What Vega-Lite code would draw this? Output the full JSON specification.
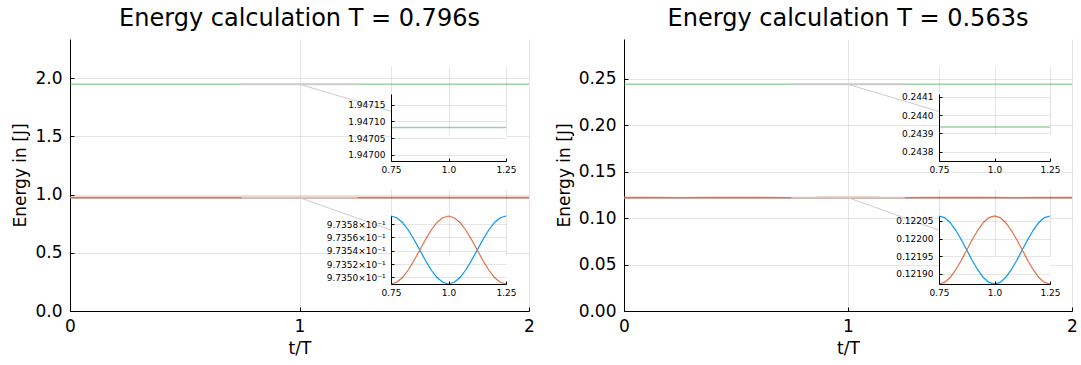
{
"$schema": "https://vega.github.io/schema/vega-lite/v6.json",
"padding": {"left": 11, "top": 7, "right": 0, "bottom": 0},
"background": "white",
"config": {
  "font": "DejaVu Sans",
  "view": {"stroke": null},
  "axis": {"domainColor": "#000", "tickColor": "#000", "labelColor": "#000", "titleColor": "#000", "gridColor": "#000", "gridOpacity": 0.1, "gridWidth": 1, "titleFontWeight": "normal", "labelFont": "DejaVu Sans", "titleFont": "DejaVu Sans", "labelOverlap": false, "labelBound": false},
  "title": {"font": "DejaVu Sans", "fontWeight": "normal", "fontSize": 24, "color": "#000"}
},
"datasets": {
  "p1": [
    {"t":0,"K":0.97349,"P":0.973592,"E":1.947082},
    {"t":0.125,"K":0.973541,"P":0.973541,"E":1.947082},
    {"t":0.25,"K":0.973592,"P":0.97349,"E":1.947082},
    {"t":0.375,"K":0.973541,"P":0.973541,"E":1.947082},
    {"t":0.5,"K":0.97349,"P":0.973592,"E":1.947082},
    {"t":0.625,"K":0.973541,"P":0.973541,"E":1.947082},
    {"t":0.75,"K":0.973592,"P":0.97349,"E":1.947082},
    {"t":0.775,"K":0.9735895,"P":0.9734925,"E":1.947082},
    {"t":0.8,"K":0.9735823,"P":0.9734997,"E":1.947082},
    {"t":0.825,"K":0.973571,"P":0.973511,"E":1.947082},
    {"t":0.85,"K":0.9735568,"P":0.9735252,"E":1.947082},
    {"t":0.875,"K":0.973541,"P":0.973541,"E":1.947082},
    {"t":0.9,"K":0.9735252,"P":0.9735568,"E":1.947082},
    {"t":0.925,"K":0.973511,"P":0.973571,"E":1.947082},
    {"t":0.95,"K":0.9734997,"P":0.9735823,"E":1.947082},
    {"t":0.975,"K":0.9734925,"P":0.9735895,"E":1.947082},
    {"t":1,"K":0.97349,"P":0.973592,"E":1.947082},
    {"t":1.025,"K":0.9734925,"P":0.9735895,"E":1.947082},
    {"t":1.05,"K":0.9734997,"P":0.9735823,"E":1.947082},
    {"t":1.075,"K":0.973511,"P":0.973571,"E":1.947082},
    {"t":1.1,"K":0.9735252,"P":0.9735568,"E":1.947082},
    {"t":1.125,"K":0.973541,"P":0.973541,"E":1.947082},
    {"t":1.15,"K":0.9735568,"P":0.9735252,"E":1.947082},
    {"t":1.175,"K":0.973571,"P":0.973511,"E":1.947082},
    {"t":1.2,"K":0.9735823,"P":0.9734997,"E":1.947082},
    {"t":1.225,"K":0.9735895,"P":0.9734925,"E":1.947082},
    {"t":1.25,"K":0.973592,"P":0.97349,"E":1.947082},
    {"t":1.375,"K":0.973541,"P":0.973541,"E":1.947082},
    {"t":1.5,"K":0.97349,"P":0.973592,"E":1.947082},
    {"t":1.625,"K":0.973541,"P":0.973541,"E":1.947082},
    {"t":1.75,"K":0.973592,"P":0.97349,"E":1.947082},
    {"t":1.875,"K":0.973541,"P":0.973541,"E":1.947082},
    {"t":2,"K":0.97349,"P":0.973592,"E":1.947082}
  ],
  "p2": [
    {"t":0,"K":0.121871,"P":0.122064,"E":0.243935},
    {"t":0.125,"K":0.1219675,"P":0.1219675,"E":0.243935},
    {"t":0.25,"K":0.122064,"P":0.121871,"E":0.243935},
    {"t":0.375,"K":0.1219675,"P":0.1219675,"E":0.243935},
    {"t":0.5,"K":0.121871,"P":0.122064,"E":0.243935},
    {"t":0.625,"K":0.1219675,"P":0.1219675,"E":0.243935},
    {"t":0.75,"K":0.122064,"P":0.121871,"E":0.243935},
    {"t":0.775,"K":0.1220593,"P":0.1218757,"E":0.243935},
    {"t":0.8,"K":0.1220456,"P":0.1218894,"E":0.243935},
    {"t":0.825,"K":0.1220242,"P":0.1219108,"E":0.243935},
    {"t":0.85,"K":0.1219973,"P":0.1219377,"E":0.243935},
    {"t":0.875,"K":0.1219675,"P":0.1219675,"E":0.243935},
    {"t":0.9,"K":0.1219377,"P":0.1219973,"E":0.243935},
    {"t":0.925,"K":0.1219108,"P":0.1220242,"E":0.243935},
    {"t":0.95,"K":0.1218894,"P":0.1220456,"E":0.243935},
    {"t":0.975,"K":0.1218757,"P":0.1220593,"E":0.243935},
    {"t":1,"K":0.121871,"P":0.122064,"E":0.243935},
    {"t":1.025,"K":0.1218757,"P":0.1220593,"E":0.243935},
    {"t":1.05,"K":0.1218894,"P":0.1220456,"E":0.243935},
    {"t":1.075,"K":0.1219108,"P":0.1220242,"E":0.243935},
    {"t":1.1,"K":0.1219377,"P":0.1219973,"E":0.243935},
    {"t":1.125,"K":0.1219675,"P":0.1219675,"E":0.243935},
    {"t":1.15,"K":0.1219973,"P":0.1219377,"E":0.243935},
    {"t":1.175,"K":0.1220242,"P":0.1219108,"E":0.243935},
    {"t":1.2,"K":0.1220456,"P":0.1218894,"E":0.243935},
    {"t":1.225,"K":0.1220593,"P":0.1218757,"E":0.243935},
    {"t":1.25,"K":0.122064,"P":0.121871,"E":0.243935},
    {"t":1.375,"K":0.1219675,"P":0.1219675,"E":0.243935},
    {"t":1.5,"K":0.121871,"P":0.122064,"E":0.243935},
    {"t":1.625,"K":0.1219675,"P":0.1219675,"E":0.243935},
    {"t":1.75,"K":0.122064,"P":0.121871,"E":0.243935},
    {"t":1.875,"K":0.1219675,"P":0.1219675,"E":0.243935},
    {"t":2,"K":0.121871,"P":0.122064,"E":0.243935}
  ]
},
"hconcat": [
  {
    "width": 459, "height": 272,
    "title": {"text": "Energy calculation T = 0.796s", "anchor": "middle", "frame": "group", "offset": -11, "baseline": "alphabetic"},
    "layer": [
      {
        "layer": [
          {"data": {"name": "p1"}, "mark": {"type": "line", "color": "#009AFA", "strokeWidth": 1.2},
           "encoding": {
             "x": {"field": "t", "type": "quantitative", "title": "t/T", "scale": {"domain": [0, 2], "nice": false, "zero": false},
                   "axis": {"orient": "bottom", "tickCount": 2, "format": "d", "grid": true, "labelFontSize": 17, "titleFontSize": 17, "tickSize": -4, "labelPadding": 11, "titlePadding": 6, "labelFlush": false, "labelOverlap": false, "labelBound": false}},
             "y": {"field": "K", "type": "quantitative", "title": "Energy in [J]", "scale": {"domain": [0, 2.3365], "nice": false, "zero": false},
                   "axis": {"orient": "left", "values": [0, 0.5, 1, 1.5, 2], "format": ".1f", "grid": true, "labelFontSize": 17, "titleFontSize": 17, "tickSize": -4, "labelPadding": 12, "titlePadding": 5, "labelOverlap": false, "labelBound": false}}
           }},
          {"data": {"name": "p1"}, "mark": {"type": "line", "color": "#E36F47", "strokeWidth": 1.6},
           "encoding": {
             "x": {"field": "t", "type": "quantitative", "title": "t/T", "scale": {"domain": [0, 2], "nice": false, "zero": false}},
             "y": {"field": "P", "type": "quantitative", "title": "Energy in [J]", "scale": {"domain": [0, 2.3365], "nice": false, "zero": false}}
           }},
          {"data": {"name": "p1"}, "mark": {"type": "line", "color": "#3EA44E", "opacity": 0.5, "strokeWidth": 1.5},
           "encoding": {
             "x": {"field": "t", "type": "quantitative", "title": "t/T", "scale": {"domain": [0, 2], "nice": false, "zero": false}},
             "y": {"field": "E", "type": "quantitative", "title": "Energy in [J]", "scale": {"domain": [0, 2.3365], "nice": false, "zero": false}}
           }},
          {"data": {"values": [{"x1": 0.75, "x2": 1.25, "y1": 1.946982, "y2": 1.947182}, {"x1": 0.75, "x2": 1.25, "y1": 0.97349, "y2": 0.973592}]},
           "mark": {"type": "rect", "fill": "white", "fillOpacity": 0, "stroke": "#cccccc", "strokeWidth": 1.6},
           "encoding": {
             "x": {"field": "x1", "type": "quantitative", "title": "t/T", "scale": {"domain": [0, 2], "nice": false, "zero": false}},
             "x2": {"field": "x2"},
             "y": {"field": "y1", "type": "quantitative", "title": "Energy in [J]", "scale": {"domain": [0, 2.3365], "nice": false, "zero": false}},
             "y2": {"field": "y2"}
           }},
          {"data": {"values": [{"x1": 1.0, "x2": 1.3987, "y1": 1.947082, "y2": 1.7163}, {"x1": 1.0, "x2": 1.3987, "y1": 0.973541, "y2": 0.6958}]},
           "mark": {"type": "rule", "color": "#cccccc", "strokeWidth": 1},
           "encoding": {
             "x": {"field": "x1", "type": "quantitative", "title": "t/T", "scale": {"domain": [0, 2], "nice": false, "zero": false}},
             "x2": {"field": "x2"},
             "y": {"field": "y1", "type": "quantitative", "title": "Energy in [J]", "scale": {"domain": [0, 2.3365], "nice": false, "zero": false}},
             "y2": {"field": "y2"}
           }}
        ]
      },
      {
        "layer": [
          {"data": {"values": [{"x1": 0.75, "x2": 1.25, "y1": 1.946982, "y2": 1.947182}]},
           "mark": {"type": "rect", "fill": "white"},
           "encoding": {
             "x": {"field": "x1", "type": "quantitative", "title": null, "scale": {"domain": [0.75, 1.25], "range": [321, 436], "nice": false, "zero": false},
                   "axis": {"orient": "bottom", "offset": -150, "values": [0.75, 1, 1.25], "labelExpr": "datum.value == 1 ? '1.0' : format(datum.value, '.2f')", "labelFontSize": 9, "tickSize": -3, "labelPadding": 7, "grid": true, "labelFlush": false, "labelOverlap": false, "zindex": 1, "title": null}},
             "x2": {"field": "x2"},
             "y": {"field": "y1", "type": "quantitative", "title": null, "scale": {"domain": [1.946982, 1.947182], "range": [122, 55], "nice": false, "zero": false},
                   "axis": {"orient": "left", "offset": -321, "values": [1.947, 1.94705, 1.9471, 1.94715], "format": ".5f", "labelFontSize": 9, "tickSize": -3, "labelPadding": 9, "grid": true, "labelOverlap": false, "zindex": 1, "title": null}},
             "y2": {"field": "y2"}
           }},
          {"data": {"name": "p1"}, "transform": [{"filter": "datum.t >= 0.75 && datum.t <= 1.25"}],
           "mark": {"type": "line", "color": "#3EA44E", "opacity": 0.5, "strokeWidth": 1.5},
           "encoding": {
             "x": {"field": "t", "type": "quantitative", "title": null, "scale": {"domain": [0.75, 1.25], "range": [321, 436], "nice": false, "zero": false}},
             "y": {"field": "E", "type": "quantitative", "title": null, "scale": {"domain": [1.946982, 1.947182], "range": [122, 55], "nice": false, "zero": false}}
           }}
        ]
      },
      {
        "layer": [
          {"data": {"values": [{"x1": 0.75, "x2": 1.25, "y1": 0.97349, "y2": 0.973592}]},
           "mark": {"type": "rect", "fill": "white"},
           "encoding": {
             "x": {"field": "x1", "type": "quantitative", "title": null, "scale": {"domain": [0.75, 1.25], "range": [321, 436], "nice": false, "zero": false},
                   "axis": {"orient": "bottom", "offset": -27, "values": [0.75, 1, 1.25], "labelExpr": "datum.value == 1 ? '1.0' : format(datum.value, '.2f')", "labelFontSize": 9, "tickSize": -3, "labelPadding": 7, "grid": true, "labelFlush": false, "labelOverlap": false, "zindex": 1, "title": null}},
             "x2": {"field": "x2"},
             "y": {"field": "y1", "type": "quantitative", "title": null, "scale": {"domain": [0.97349, 0.973592], "range": [245, 177], "nice": false, "zero": false},
                   "axis": {"orient": "left", "offset": -321, "values": [0.9735, 0.97352, 0.97354, 0.97356, 0.97358], "labelExpr": "format(datum.value * 10, '.4f') + '×10⁻¹'", "labelFontSize": 9, "tickSize": -3, "labelPadding": 9, "grid": true, "labelOverlap": false, "zindex": 1, "title": null}},
             "y2": {"field": "y2"}
           }},
          {"data": {"name": "p1"}, "transform": [{"filter": "datum.t >= 0.75 && datum.t <= 1.25"}],
           "mark": {"type": "line", "color": "#009AFA", "strokeWidth": 1.2},
           "encoding": {
             "x": {"field": "t", "type": "quantitative", "title": null, "scale": {"domain": [0.75, 1.25], "range": [321, 436], "nice": false, "zero": false}},
             "y": {"field": "K", "type": "quantitative", "title": null, "scale": {"domain": [0.97349, 0.973592], "range": [245, 177], "nice": false, "zero": false}}
           }},
          {"data": {"name": "p1"}, "transform": [{"filter": "datum.t >= 0.75 && datum.t <= 1.25"}],
           "mark": {"type": "line", "color": "#E36F47", "strokeWidth": 1.2},
           "encoding": {
             "x": {"field": "t", "type": "quantitative", "title": null, "scale": {"domain": [0.75, 1.25], "range": [321, 436], "nice": false, "zero": false}},
             "y": {"field": "P", "type": "quantitative", "title": null, "scale": {"domain": [0.97349, 0.973592], "range": [245, 177], "nice": false, "zero": false}}
           }}
        ]
      }
    ],
    "resolve": {"scale": {"x": "independent", "y": "independent"}, "axis": {"x": "independent", "y": "independent"}}
  },
  {
    "width": 448, "height": 272,
    "title": {"text": "Energy calculation T = 0.563s", "anchor": "middle", "frame": "group", "offset": -11, "baseline": "alphabetic"},
    "layer": [
      {
        "layer": [
          {"data": {"name": "p2"}, "mark": {"type": "line", "color": "#009AFA", "strokeWidth": 1.2},
           "encoding": {
             "x": {"field": "t", "type": "quantitative", "title": "t/T", "scale": {"domain": [0, 2], "nice": false, "zero": false},
                   "axis": {"orient": "bottom", "tickCount": 2, "format": "d", "grid": true, "labelFontSize": 17, "titleFontSize": 17, "tickSize": -4, "labelPadding": 11, "titlePadding": 6, "labelFlush": false, "labelOverlap": false, "labelBound": false}},
             "y": {"field": "K", "type": "quantitative", "title": "Energy in [J]", "scale": {"domain": [0, 0.29273], "nice": false, "zero": false},
                   "axis": {"orient": "left", "values": [0, 0.05, 0.1, 0.15, 0.2, 0.25], "format": ".2f", "grid": true, "labelFontSize": 17, "titleFontSize": 17, "tickSize": -4, "labelPadding": 12, "titlePadding": 5, "labelOverlap": false, "labelBound": false}}
           }},
          {"data": {"name": "p2"}, "mark": {"type": "line", "color": "#E36F47", "strokeWidth": 1.6},
           "encoding": {
             "x": {"field": "t", "type": "quantitative", "title": "t/T", "scale": {"domain": [0, 2], "nice": false, "zero": false}},
             "y": {"field": "P", "type": "quantitative", "title": "Energy in [J]", "scale": {"domain": [0, 0.29273], "nice": false, "zero": false}}
           }},
          {"data": {"name": "p2"}, "mark": {"type": "line", "color": "#3EA44E", "opacity": 0.5, "strokeWidth": 1.5},
           "encoding": {
             "x": {"field": "t", "type": "quantitative", "title": "t/T", "scale": {"domain": [0, 2], "nice": false, "zero": false}},
             "y": {"field": "E", "type": "quantitative", "title": "Energy in [J]", "scale": {"domain": [0, 0.29273], "nice": false, "zero": false}}
           }},
          {"data": {"values": [{"x1": 0.75, "x2": 1.25, "y1": 0.24375, "y2": 0.244115}, {"x1": 0.75, "x2": 1.25, "y1": 0.121871, "y2": 0.122064}]},
           "mark": {"type": "rect", "fill": "white", "fillOpacity": 0, "stroke": "#cccccc", "strokeWidth": 1.6},
           "encoding": {
             "x": {"field": "x1", "type": "quantitative", "title": "t/T", "scale": {"domain": [0, 2], "nice": false, "zero": false}},
             "x2": {"field": "x2"},
             "y": {"field": "y1", "type": "quantitative", "title": "Energy in [J]", "scale": {"domain": [0, 0.29273], "nice": false, "zero": false}},
             "y2": {"field": "y2"}
           }},
          {"data": {"values": [{"x1": 1.0, "x2": 1.40625, "y1": 0.243935, "y2": 0.21481}, {"x1": 1.0, "x2": 1.40625, "y1": 0.1219675, "y2": 0.08696}]},
           "mark": {"type": "rule", "color": "#cccccc", "strokeWidth": 1},
           "encoding": {
             "x": {"field": "x1", "type": "quantitative", "title": "t/T", "scale": {"domain": [0, 2], "nice": false, "zero": false}},
             "x2": {"field": "x2"},
             "y": {"field": "y1", "type": "quantitative", "title": "Energy in [J]", "scale": {"domain": [0, 0.29273], "nice": false, "zero": false}},
             "y2": {"field": "y2"}
           }}
        ]
      },
      {
        "layer": [
          {"data": {"values": [{"x1": 0.75, "x2": 1.25, "y1": 0.24375, "y2": 0.244115}]},
           "mark": {"type": "rect", "fill": "white"},
           "encoding": {
             "x": {"field": "x1", "type": "quantitative", "title": null, "scale": {"domain": [0.75, 1.25], "range": [315, 426], "nice": false, "zero": false},
                   "axis": {"orient": "bottom", "offset": -150, "values": [0.75, 1, 1.25], "labelExpr": "datum.value == 1 ? '1.0' : format(datum.value, '.2f')", "labelFontSize": 9, "tickSize": -3, "labelPadding": 7, "grid": true, "labelFlush": false, "labelOverlap": false, "zindex": 1, "title": null}},
             "x2": {"field": "x2"},
             "y": {"field": "y1", "type": "quantitative", "title": null, "scale": {"domain": [0.24375, 0.244115], "range": [122, 55], "nice": false, "zero": false},
                   "axis": {"orient": "left", "offset": -315, "values": [0.2438, 0.2439, 0.244, 0.2441], "format": ".4f", "labelFontSize": 9, "tickSize": -3, "labelPadding": 9, "grid": true, "labelOverlap": false, "zindex": 1, "title": null}},
             "y2": {"field": "y2"}
           }},
          {"data": {"name": "p2"}, "transform": [{"filter": "datum.t >= 0.75 && datum.t <= 1.25"}],
           "mark": {"type": "line", "color": "#3EA44E", "opacity": 0.5, "strokeWidth": 1.5},
           "encoding": {
             "x": {"field": "t", "type": "quantitative", "title": null, "scale": {"domain": [0.75, 1.25], "range": [315, 426], "nice": false, "zero": false}},
             "y": {"field": "E", "type": "quantitative", "title": null, "scale": {"domain": [0.24375, 0.244115], "range": [122, 55], "nice": false, "zero": false}}
           }}
        ]
      },
      {
        "layer": [
          {"data": {"values": [{"x1": 0.75, "x2": 1.25, "y1": 0.121871, "y2": 0.122064}]},
           "mark": {"type": "rect", "fill": "white"},
           "encoding": {
             "x": {"field": "x1", "type": "quantitative", "title": null, "scale": {"domain": [0.75, 1.25], "range": [315, 426], "nice": false, "zero": false},
                   "axis": {"orient": "bottom", "offset": -27, "values": [0.75, 1, 1.25], "labelExpr": "datum.value == 1 ? '1.0' : format(datum.value, '.2f')", "labelFontSize": 9, "tickSize": -3, "labelPadding": 7, "grid": true, "labelFlush": false, "labelOverlap": false, "zindex": 1, "title": null}},
             "x2": {"field": "x2"},
             "y": {"field": "y1", "type": "quantitative", "title": null, "scale": {"domain": [0.121871, 0.122064], "range": [245, 177], "nice": false, "zero": false},
                   "axis": {"orient": "left", "offset": -315, "values": [0.1219, 0.12195, 0.122, 0.12205], "format": ".5f", "labelFontSize": 9, "tickSize": -3, "labelPadding": 9, "grid": true, "labelOverlap": false, "zindex": 1, "title": null}},
             "y2": {"field": "y2"}
           }},
          {"data": {"name": "p2"}, "transform": [{"filter": "datum.t >= 0.75 && datum.t <= 1.25"}],
           "mark": {"type": "line", "color": "#009AFA", "strokeWidth": 1.2},
           "encoding": {
             "x": {"field": "t", "type": "quantitative", "title": null, "scale": {"domain": [0.75, 1.25], "range": [315, 426], "nice": false, "zero": false}},
             "y": {"field": "K", "type": "quantitative", "title": null, "scale": {"domain": [0.121871, 0.122064], "range": [245, 177], "nice": false, "zero": false}}
           }},
          {"data": {"name": "p2"}, "transform": [{"filter": "datum.t >= 0.75 && datum.t <= 1.25"}],
           "mark": {"type": "line", "color": "#E36F47", "strokeWidth": 1.2},
           "encoding": {
             "x": {"field": "t", "type": "quantitative", "title": null, "scale": {"domain": [0.75, 1.25], "range": [315, 426], "nice": false, "zero": false}},
             "y": {"field": "P", "type": "quantitative", "title": null, "scale": {"domain": [0.121871, 0.122064], "range": [245, 177], "nice": false, "zero": false}}
           }}
        ]
      }
    ],
    "resolve": {"scale": {"x": "independent", "y": "independent"}, "axis": {"x": "independent", "y": "independent"}}
  }
],
"spacing": 95,
"bounds": "flush"
}
